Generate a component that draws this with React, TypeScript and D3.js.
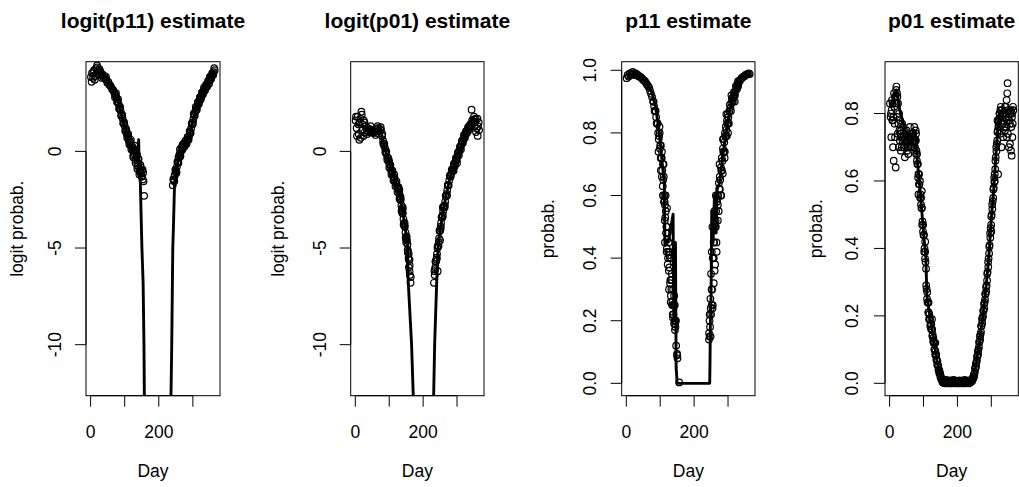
import React from 'react';
import * as d3 from 'd3';

// ---------------- data ----------------
// circles: each series is sampled every STEP days from its start day
const STEP = 3;
const XTICKS = [0, 100, 200, 300];
const XLABELED = [0, 200];

// logit(p11)
const LP11_LEFT_START = 1;
const LP11_LEFT = [3.85, 4.05, 3.8, 4.2, 3.9, 4.3, 4.45, 4.2, 4.05, 4.15, 3.95, 4.0, 3.85, 3.9, 3.75, 3.7, 3.55, 3.6, 3.45, 3.4, 3.3, 3.2, 3.15, 3.0, 2.9, 2.75, 2.6, 2.45, 2.25, 2.1, 1.85, 1.7, 1.45, 1.3, 1.1, 0.9, 0.75, 0.55, 0.45, 0.3, 0.2, 0.05, -0.1, 0.1, -0.35, -0.2, -0.6, -0.85, -0.95, -1.15, -1.3, -1.1, -2.3];
const LP11_FILL_LEFT_START = 71.5;
const LP11_FILL_LEFT = [2.8, 3.0, 2.55, 2.7, 2.2, 2.3, 1.85, 1.9, 1.45, 1.5, 1.05, 1.15, 0.7, 0.8, 0.35, 0.5, 0.1, 0.25, -0.2, 0.05, -0.45, -0.1, -0.75, -0.4, -1.05, -0.8, -1.3, -0.95, -1.55];
const LP11_RIGHT_START = 241;
const LP11_RIGHT = [-1.75, -1.5, -1.2, -1.0, -0.8, -0.55, -0.35, -0.2, 0.0, 0.15, 0.25, 0.3, 0.4, 0.45, 0.55, 0.65, 0.8, 1.0, 1.2, 1.4, 1.65, 1.9, 2.05, 2.2, 2.35, 2.5, 2.6, 2.75, 2.85, 3.0, 3.1, 3.2, 3.3, 3.4, 3.5, 3.6, 3.7, 3.8, 3.9, 4.0, 4.1, 4.2];
const LP11_FILL_RIGHT_START = 242.5;
const LP11_FILL_RIGHT = [-1.45, -1.55, -0.95, -1.05, -0.55, -0.6, -0.15, -0.25, 0.2, 0.1, 0.4, 0.25, 0.55, 0.4, 0.75, 0.6, 1.05, 0.95, 1.45, 1.4, 1.95, 1.85, 2.3, 2.15, 2.55, 2.45, 2.8, 2.7, 3.05, 2.95, 3.3, 3.15, 3.45, 3.35, 3.65, 3.5, 3.85, 3.75, 4.05, 3.95, 4.3];
const LP11_SCATTER: [number, number][] = [[3, 3.6], [8, 4.1], [12, 3.7], [20, 4.35], [26, 4.25], [33, 3.8], [45, 3.85], [110, 0.9], [118, 0.6], [125, -0.3], [129, 0.3], [132, -0.6], [137, -0.9], [140, -0.4], [143, -1.2], [146, -0.7], [150, -1.0], [153, -1.45], [246, -1.3], [252, -1.1], [258, -0.3], [262, 0.1], [270, 0.35], [300, 1.5], [320, 2.7], [350, 3.85]];
const LP11_LINE_LEFT: [number, number][] = [[1, 3.95], [15, 4.15], [25, 4.1], [40, 3.85], [55, 3.5], [70, 3.05], [85, 2.3], [100, 1.3], [110, 0.7], [120, 0.25], [130, -0.2], [136, -0.5], [139, 0.1], [141, 0.6], [142, -0.6], [146, -1.7], [148, -3.2], [150.5, -5], [154, -6.8], [156.5, -10], [158, -13.5]];
const LP11_LINE_RIGHT: [number, number][] = [[235, -13.5], [238, -10], [241, -5], [243, -3.9], [246, -1.8], [255, -0.6], [265, 0.0], [280, 0.45], [290, 0.85], [300, 1.55], [310, 2.2], [325, 2.85], [340, 3.4], [355, 3.9], [365, 4.2]];

// logit(p01)
const LP01_LEFT_START = 1;
const LP01_LEFT = [1.6, 1.2, 1.8, 0.9, 1.5, 0.7, 1.9, 1.4, 1.6, 1.0, 1.3, 1.1, 1.2, 1.0, 1.15, 1.0, 1.1, 0.95, 1.05, 1.0, 1.1, 0.95, 1.2, 1.05, 1.15, 1.1, 0.8, 0.55, 0.3, 0.15, -0.1, -0.3, -0.45, -0.65, -0.85, -1.0, -1.15, -1.3, -1.45, -1.6, -1.7, -1.85, -2.0, -2.2, -2.5, -2.8, -3.2, -3.5, -3.85, -4.2, -4.55, -4.8, -5.5, -6.2, -6.8];
const LP01_FILL_LEFT_START = 79.5;
const LP01_FILL_LEFT = [0.9, 0.4, 0.4, -0.05, 0.0, -0.45, -0.35, -0.85, -0.7, -1.2, -1.0, -1.5, -1.35, -1.8, -1.55, -2.1, -1.85, -2.45, -2.35, -3.1, -3.0, -3.8, -3.7, -4.45, -4.4, -5.1, -5.3, -5.9, -6.5];
const LP01_FILL2_LEFT_START = 128;
const LP01_FILL2_LEFT = [-1.95, -2.4, -2.5, -3.05, -3.2, -3.75, -3.9, -4.5, -4.6, -5.2, -5.6, -6.4];
const LP01_RIGHT_START = 232;
const LP01_RIGHT = [-6.8, -6.1, -5.7, -5.3, -4.9, -4.5, -4.1, -3.7, -3.4, -3.1, -2.85, -2.6, -2.3, -2.0, -1.75, -1.5, -1.3, -1.15, -1.0, -0.85, -0.7, -0.55, -0.4, -0.25, -0.1, 0.05, 0.2, 0.35, 0.5, 0.65, 0.8, 0.9, 1.0, 1.1, 1.2, 1.25, 1.35, 1.45, 1.5, 1.55, 1.3, 1.7, 1.2, 0.8, 1.5];
const LP01_FILL_RIGHT_START = 233.5;
const LP01_FILL_RIGHT = [-6.2, -5.7, -5.6, -5.0, -4.9, -4.1, -4.0, -3.4, -3.4, -2.85, -2.9, -2.3, -2.3, -1.75, -1.75, -1.25, -1.3, -0.95, -1.0, -0.65, -0.75, -0.35, -0.45, -0.05, -0.2, 0.25, 0.1, 0.55, 0.45, 0.85, 0.7, 1.05, 0.95, 1.25, 1.1, 1.4, 1.3, 1.6, 1.45, 1.65];
const LP01_FILL2_RIGHT_START = 234;
const LP01_FILL2_RIGHT = [-6.4, -5.7, -5.5, -4.9, -4.7, -4.1, -3.9, -3.4, -3.3, -2.85, -2.8, -2.3, -2.2];
const LP01_SCATTER: [number, number][] = [[2, 1.8], [5, 0.8], [9, 1.4], [12, 0.6], [15, 1.7], [18, 2.05], [20, 1.1], [24, 0.8], [27, 1.5], [35, 0.9], [45, 1.3], [60, 0.85], [66, 1.3], [75, 1.25], [100, -0.5], [115, -1.2], [130, -2.0], [140, -2.9], [150, -4.7], [155, -5.2], [158, -6.0], [160, -5.6], [236, -6.0], [240, -5.5], [243, -6.2], [250, -4.6], [258, -2.9], [270, -2.3], [290, -1.0], [300, -0.6], [343, 2.16], [350, 1.8], [356, 1.0], [360, 1.7], [362, 1.3], [365, 1.1]];
const LP01_LINE_LEFT: [number, number][] = [[1, 1.4], [20, 1.3], [40, 1.1], [60, 1.05], [75, 1.1], [85, 0.3], [100, -0.6], [115, -1.4], [130, -2.1], [140, -3.1], [150, -4.3], [154, -4.9], [156, -6.7], [166, -10], [171, -12.7], [172, -13.5]];
const LP01_LINE_RIGHT: [number, number][] = [[230, -13.5], [231, -12.7], [234, -10], [240, -6.8], [244, -5], [250, -4.1], [260, -3.0], [270, -2.1], [280, -1.3], [290, -0.8], [300, -0.3], [310, 0.2], [320, 0.65], [330, 1.05], [340, 1.35], [350, 1.5], [365, 1.5]];

// p11
const P11_LEFT_START = 1;
const P11_LEFT = [0.975, 0.985, 0.98, 0.99, 0.985, 0.99, 0.995, 0.99, 0.985, 0.99, 0.985, 0.985, 0.98, 0.98, 0.978, 0.975, 0.97, 0.968, 0.965, 0.96, 0.955, 0.95, 0.945, 0.935, 0.925, 0.915, 0.9, 0.885, 0.87, 0.85, 0.83, 0.8, 0.79, 0.76, 0.72, 0.68, 0.65, 0.6, 0.53, 0.5, 0.46, 0.42, 0.37, 0.33, 0.3, 0.26, 0.22, 0.2, 0.18];
const P11_FILL_LEFT_START = 80.5;
const P11_FILL_LEFT = [0.9, 0.87, 0.87, 0.83, 0.83, 0.78, 0.8, 0.72, 0.72, 0.63, 0.66, 0.52, 0.55, 0.43, 0.48, 0.36, 0.4, 0.28, 0.33, 0.21, 0.25, 0.17, 0.2, 0.09];
const P11_FILL2_LEFT_START = 99;
const P11_FILL2_LEFT = [0.75, 0.76, 0.66, 0.7, 0.58, 0.57, 0.48, 0.5, 0.4, 0.41, 0.32, 0.33, 0.25, 0.25, 0.19, 0.2, 0.12];
const P11_RIGHT_START = 244;
const P11_RIGHT = [0.14, 0.18, 0.22, 0.3, 0.4, 0.45, 0.5, 0.55, 0.58, 0.6, 0.62, 0.65, 0.68, 0.71, 0.74, 0.77, 0.79, 0.81, 0.83, 0.85, 0.87, 0.88, 0.895, 0.905, 0.915, 0.925, 0.935, 0.945, 0.955, 0.96, 0.965, 0.97, 0.975, 0.978, 0.98, 0.982, 0.985, 0.987, 0.988, 0.99, 0.988];
const P11_FILL_RIGHT_START = 245.5;
const P11_FILL_RIGHT = [0.2, 0.15, 0.3, 0.24, 0.45, 0.36, 0.52, 0.42, 0.6, 0.55, 0.66, 0.6, 0.72, 0.67, 0.78, 0.74, 0.82, 0.79, 0.86, 0.83, 0.89, 0.87, 0.91, 0.9, 0.93, 0.92, 0.95, 0.94, 0.965];
const P11_FILL2_RIGHT_START = 246;
const P11_FILL2_RIGHT = [0.15, 0.24, 0.25, 0.4, 0.4, 0.51, 0.5, 0.59, 0.57, 0.64, 0.62, 0.69, 0.68, 0.75, 0.74, 0.8, 0.79, 0.84, 0.83];
const P11_SCATTER: [number, number][] = [[95, 0.74], [98, 0.82], [102, 0.68], [105, 0.74], [108, 0.6], [110, 0.7], [113, 0.58], [114, 0.45], [116, 0.6], [119, 0.42], [120, 0.56], [122, 0.38], [125, 0.45], [126, 0.3], [128, 0.42], [131, 0.26], [132, 0.4], [134, 0.35], [137, 0.22], [138, 0.3], [141, 0.28], [143, 0.25], [144, 0.19], [150, 0.094], [151, 0.08], [156, 0.003], [244, 0.16], [246, 0.22], [248, 0.27], [250, 0.35], [252, 0.42], [254, 0.5], [255, 0.25], [258, 0.32], [260, 0.55], [262, 0.38], [264, 0.6], [266, 0.45], [270, 0.52], [275, 0.7], [280, 0.6], [285, 0.78], [290, 0.72], [295, 0.86], [300, 0.8], [310, 0.92], [320, 0.9], [330, 0.95]];
const P11_LINE: [number, number][] = [[1, 0.98], [20, 0.99], [40, 0.985], [60, 0.96], [75, 0.93], [85, 0.89], [95, 0.82], [102, 0.75], [108, 0.68], [112, 0.64], [114, 0.44], [125, 0.46], [138, 0.54], [140, 0.2], [145, 0.45], [147, 0.05], [150, 0], [246, 0], [247, 0.08], [248, 0.2], [250, 0.28], [252, 0.55], [256, 0.45], [260, 0.6], [265, 0.48], [268, 0.62], [275, 0.64], [285, 0.73], [295, 0.81], [305, 0.87], [315, 0.92], [330, 0.955], [345, 0.978], [365, 0.988]];

// p01
const P01_LEFT_START = 1;
const P01_LEFT = [0.83, 0.8, 0.84, 0.78, 0.86, 0.85, 0.87, 0.86, 0.83, 0.8, 0.78, 0.75, 0.77, 0.73, 0.72, 0.74, 0.71, 0.72, 0.7, 0.73, 0.72, 0.7, 0.73, 0.74, 0.72, 0.72, 0.69, 0.65, 0.62, 0.59, 0.56, 0.52, 0.48, 0.44, 0.4, 0.36, 0.28, 0.24, 0.21, 0.19, 0.175, 0.16, 0.145, 0.12, 0.1, 0.085, 0.07, 0.055, 0.04, 0.03, 0.02, 0.01, 0.005];
const P01_FILL_LEFT_START = 77.5;
const P01_FILL_LEFT = [0.72, 0.66, 0.65, 0.59, 0.6, 0.53, 0.52, 0.45, 0.44, 0.37, 0.34, 0.25, 0.24, 0.19, 0.19, 0.16, 0.16, 0.125, 0.12, 0.085, 0.085, 0.055, 0.052, 0.03, 0.028, 0.012, 0.01, 0.002];
const P01_FILL2_LEFT_START = 78;
const P01_FILL2_LEFT = [0.68, 0.68, 0.61, 0.62, 0.55, 0.55, 0.47, 0.47, 0.39, 0.39, 0.29, 0.27, 0.21, 0.205, 0.17, 0.175, 0.14, 0.135, 0.1, 0.095, 0.07, 0.065, 0.04, 0.038, 0.018, 0.015, 0.004];
const P01_MID_START = 160;
const P01_MID = [0.002, 0, 0.001, 0, 0.002, 0, 0.001, 0, 0, 0.001, 0, 0.002, 0, 0.001, 0, 0, 0.002, 0, 0.001, 0, 0, 0.001, 0, 0.002, 0.001];
const P01_MID2_START = 161.5;
const P01_MID2 = [0.008, 0.004, 0.01, 0.003, 0.007, 0.005, 0.009, 0.004, 0.006, 0.01, 0.003, 0.008, 0.005, 0.007, 0.004, 0.009, 0.006, 0.003, 0.008, 0.005, 0.01, 0.004, 0.007, 0.006, 0.009];
const P01_RIGHT_START = 235;
const P01_RIGHT = [0.0, 0.003, 0.006, 0.01, 0.016, 0.028, 0.045, 0.062, 0.08, 0.1, 0.123, 0.145, 0.17, 0.195, 0.215, 0.24, 0.265, 0.29, 0.33, 0.37, 0.41, 0.46, 0.5, 0.54, 0.58, 0.62, 0.67, 0.71, 0.75, 0.78, 0.8, 0.79, 0.81, 0.77, 0.8, 0.75, 0.82, 0.78, 0.74, 0.8, 0.77, 0.81, 0.8, 0.82];
const P01_FILL_RIGHT_START = 239.5;
const P01_FILL_RIGHT = [0.004, 0.01, 0.012, 0.026, 0.034, 0.058, 0.068, 0.096, 0.108, 0.14, 0.152, 0.19, 0.2, 0.235, 0.248, 0.285, 0.305, 0.36, 0.385, 0.445, 0.47, 0.53, 0.55, 0.61, 0.635, 0.7, 0.72, 0.775, 0.785, 0.81];
const P01_FILL2_RIGHT_START = 240;
const P01_FILL2_RIGHT = [0.008, 0.006, 0.018, 0.02, 0.045, 0.05, 0.08, 0.086, 0.122, 0.13, 0.17, 0.178, 0.215, 0.222, 0.265, 0.272, 0.325, 0.345, 0.405, 0.432, 0.495, 0.517, 0.575, 0.597, 0.66, 0.688, 0.745, 0.762, 0.8];
const P01_SCATTER: [number, number][] = [[3, 0.79], [5, 0.73], [6, 0.81], [8, 0.78], [9, 0.83], [10, 0.7], [11, 0.79], [12, 0.66], [14, 0.82], [15, 0.77], [16, 0.73], [17, 0.85], [18, 0.64], [20, 0.88], [21, 0.83], [22, 0.79], [23, 0.85], [24, 0.74], [26, 0.77], [27, 0.7], [29, 0.75], [30, 0.72], [32, 0.74], [33, 0.69], [35, 0.73], [36, 0.7], [38, 0.72], [40, 0.76], [42, 0.7], [45, 0.67], [47, 0.72], [50, 0.75], [52, 0.69], [55, 0.68], [57, 0.73], [60, 0.76], [62, 0.7], [65, 0.74], [68, 0.72], [70, 0.7], [72, 0.71], [73, 0.76], [75, 0.7], [77, 0.75], [78, 0.74], [85, 0.56], [95, 0.57], [105, 0.42], [115, 0.24], [125, 0.19], [135, 0.12], [300, 0.45], [310, 0.6], [318, 0.78], [320, 0.62], [322, 0.76], [326, 0.74], [328, 0.82], [330, 0.7], [332, 0.77], [335, 0.73], [336, 0.8], [338, 0.76], [340, 0.82], [342, 0.79], [344, 0.76], [345, 0.84], [346, 0.73], [347, 0.86], [348, 0.89], [349, 0.81], [350, 0.79], [352, 0.7], [353, 0.78], [355, 0.71], [356, 0.8], [358, 0.69], [359, 0.76], [360, 0.675], [361, 0.79], [362, 0.73], [363, 0.77], [365, 0.81]];
const P01_LINE: [number, number][] = [[1, 0.82], [10, 0.84], [20, 0.87], [30, 0.81], [38, 0.78], [45, 0.75], [55, 0.735], [65, 0.735], [72, 0.75], [76, 0.74], [80, 0.68], [90, 0.57], [100, 0.45], [107, 0.37], [110, 0.26], [120, 0.19], [130, 0.13], [140, 0.065], [150, 0.025], [158, 0.005], [165, 0], [235, 0], [245, 0.012], [255, 0.056], [265, 0.123], [275, 0.2], [285, 0.29], [293, 0.38], [300, 0.49], [307, 0.574], [313, 0.67], [320, 0.766], [325, 0.805], [340, 0.81], [365, 0.815]];

// ---------------- layout ----------------
const W = 1019;
const H = 487;
const TOP = 61.7;
const BOTTOM = 395.7;
const XDOM: [number, number] = [-13.56, 379.56];
const FONT = '"Liberation Sans", Arial, Helvetica, sans-serif';

type Series = { start: number; vals: number[] };
type PanelDef = {
  title: string;
  ylab: string;
  left: number;
  right: number;
  yDomain: [number, number];
  yTicks: number[];
  fmt: (v: number) => string;
  tickLabelX: number;
  ylabX: number;
  series: Series[];
  scatter: [number, number][];
  lines: [number, number][][];
};

const fmtInt = (v: number) => String(v);
const fmt1 = (v: number) => v.toFixed(1);

const PANELS: PanelDef[] = [
  {
    title: 'logit(p11) estimate', ylab: 'logit probab.', left: 86, right: 220,
    yDomain: [-12.64, 4.64], yTicks: [-10, -5, 0], fmt: fmtInt, tickLabelX: 55, ylabX: 17.5,
    series: [
      { start: LP11_LEFT_START, vals: LP11_LEFT }, { start: LP11_FILL_LEFT_START, vals: LP11_FILL_LEFT },
      { start: LP11_RIGHT_START, vals: LP11_RIGHT }, { start: LP11_FILL_RIGHT_START, vals: LP11_FILL_RIGHT },
    ],
    scatter: LP11_SCATTER, lines: [LP11_LINE_LEFT, LP11_LINE_RIGHT],
  },
  {
    title: 'logit(p01) estimate', ylab: 'logit probab.', left: 350.7, right: 484,
    yDomain: [-12.64, 4.64], yTicks: [-10, -5, 0], fmt: fmtInt, tickLabelX: 320, ylabX: 279,
    series: [
      { start: LP01_LEFT_START, vals: LP01_LEFT }, { start: LP01_FILL_LEFT_START, vals: LP01_FILL_LEFT },
      { start: LP01_FILL2_LEFT_START, vals: LP01_FILL2_LEFT },
      { start: LP01_RIGHT_START, vals: LP01_RIGHT }, { start: LP01_FILL_RIGHT_START, vals: LP01_FILL_RIGHT },
      { start: LP01_FILL2_RIGHT_START, vals: LP01_FILL2_RIGHT },
    ],
    scatter: LP01_SCATTER, lines: [LP01_LINE_LEFT, LP01_LINE_RIGHT],
  },
  {
    title: 'p11 estimate', ylab: 'probab.', left: 621.7, right: 755,
    yDomain: [-0.0395, 1.0275], yTicks: [0, 0.2, 0.4, 0.6, 0.8, 1.0], fmt: fmt1, tickLabelX: 590, ylabX: 548.3,
    series: [
      { start: P11_LEFT_START, vals: P11_LEFT }, { start: P11_FILL_LEFT_START, vals: P11_FILL_LEFT },
      { start: P11_FILL2_LEFT_START, vals: P11_FILL2_LEFT },
      { start: P11_RIGHT_START, vals: P11_RIGHT }, { start: P11_FILL_RIGHT_START, vals: P11_FILL_RIGHT },
      { start: P11_FILL2_RIGHT_START, vals: P11_FILL2_RIGHT },
    ],
    scatter: P11_SCATTER, lines: [P11_LINE],
  },
  {
    title: 'p01 estimate', ylab: 'probab.', left: 885, right: 1018.3,
    yDomain: [-0.0367, 0.9537], yTicks: [0, 0.2, 0.4, 0.6, 0.8], fmt: fmt1, tickLabelX: 851.5, ylabX: 816.7,
    series: [
      { start: P01_LEFT_START, vals: P01_LEFT }, { start: P01_FILL_LEFT_START, vals: P01_FILL_LEFT },
      { start: P01_FILL2_LEFT_START, vals: P01_FILL2_LEFT },
      { start: P01_MID_START, vals: P01_MID }, { start: P01_MID2_START, vals: P01_MID2 },
      { start: P01_RIGHT_START, vals: P01_RIGHT }, { start: P01_FILL_RIGHT_START, vals: P01_FILL_RIGHT },
      { start: P01_FILL2_RIGHT_START, vals: P01_FILL2_RIGHT },
    ],
    scatter: P01_SCATTER, lines: [P01_LINE],
  },
];

function Panel({ p, idx }: { p: PanelDef; idx: number }) {
  const x = d3.scaleLinear().domain(XDOM).range([p.left, p.right]);
  const y = d3.scaleLinear().domain(p.yDomain).range([BOTTOM, TOP]);
  const pts: [number, number][] = [];
  p.series.forEach((s) => s.vals.forEach((v, i) => pts.push([s.start + i * STEP, v])));
  p.scatter.forEach((d) => pts.push(d));
  const line = d3.line<[number, number]>().x((d) => x(d[0])).y((d) => y(d[1]));
  const clipId = `clip${idx}`;
  const cx = (p.left + p.right) / 2;
  const cy = (TOP + BOTTOM) / 2;
  return (
    <g>
      <defs>
        <clipPath id={clipId}>
          <rect x={p.left} y={TOP} width={p.right - p.left} height={BOTTOM - TOP} />
        </clipPath>
      </defs>
      <g clipPath={`url(#${clipId})`}>
        {pts.map((d, i) => (
          <circle key={i} cx={x(d[0])} cy={y(d[1])} r={3.3} fill="none" stroke="#000" strokeWidth={1.2} />
        ))}
        {p.lines.map((l, i) => (
          <path key={i} d={line(l) || ''} fill="none" stroke="#000" strokeWidth={2.9} strokeLinejoin="round" />
        ))}
      </g>
      <rect x={p.left} y={TOP} width={p.right - p.left} height={BOTTOM - TOP} fill="none" stroke="#000" strokeWidth={1} />
      {/* x axis */}
      <line x1={x(XTICKS[0])} x2={x(XTICKS[XTICKS.length - 1])} y1={BOTTOM} y2={BOTTOM} stroke="#000" strokeWidth={1} />
      {XTICKS.map((t) => (
        <line key={t} x1={x(t)} x2={x(t)} y1={BOTTOM} y2={BOTTOM + 11} stroke="#000" strokeWidth={1} />
      ))}
      {XLABELED.map((t) => (
        <text key={t} x={x(t)} y={438} textAnchor="middle" fontSize={17.5} fontFamily={FONT} fill="#000">{t}</text>
      ))}
      <text x={cx} y={477} textAnchor="middle" fontSize={17.5} fontFamily={FONT} fill="#000">Day</text>
      {/* y axis */}
      <line x1={p.left} x2={p.left} y1={y(p.yTicks[0])} y2={y(p.yTicks[p.yTicks.length - 1])} stroke="#000" strokeWidth={1} />
      {p.yTicks.map((t) => (
        <g key={t}>
          <line x1={p.left - 11} x2={p.left} y1={y(t)} y2={y(t)} stroke="#000" strokeWidth={1} />
          <text transform={`translate(${p.tickLabelX},${y(t)}) rotate(-90)`} dy="0.36em" textAnchor="middle" fontSize={17.5} fontFamily={FONT} fill="#000">{p.fmt(t)}</text>
        </g>
      ))}
      <text transform={`translate(${p.ylabX},${cy}) rotate(-90)`} dy="0.3em" textAnchor="middle" fontSize={17.5} fontFamily={FONT} fill="#000">{p.ylab}</text>
      <text x={cx} y={28} textAnchor="middle" fontSize={21} fontWeight="bold" fontFamily={FONT} fill="#000">{p.title}</text>
    </g>
  );
}

export default function App() {
  return (
    <svg width={W} height={H} style={{ position: 'absolute', left: 0, top: 0, background: '#fff' }}>
      <rect x={0} y={0} width={W} height={H} fill="#fff" />
      {PANELS.map((p, i) => (
        <Panel key={i} p={p} idx={i} />
      ))}
    </svg>
  );
}
